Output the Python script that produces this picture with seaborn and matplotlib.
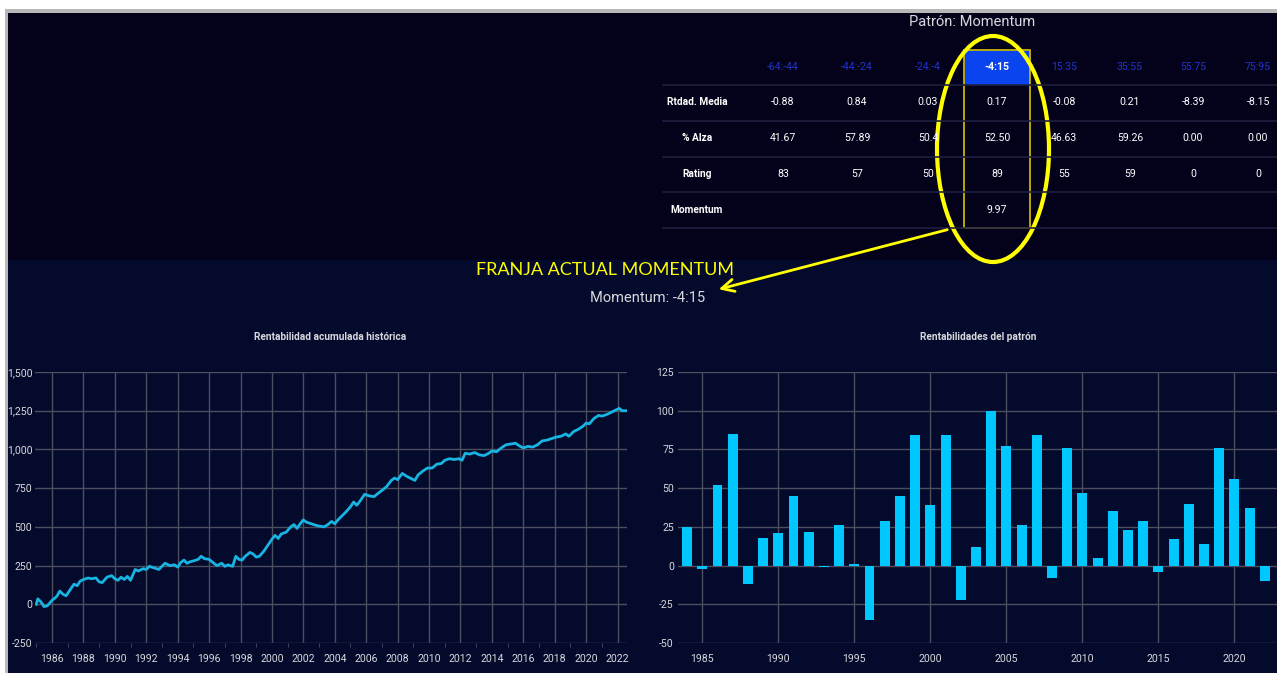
import matplotlib
matplotlib.use("Agg")
import matplotlib.pyplot as plt
from matplotlib.patches import Rectangle, Ellipse
from matplotlib.ticker import FuncFormatter, MultipleLocator
import seaborn as sns
import pandas as pd

# ---------------- data ----------------
bar_years = list(range(1984, 2023))
bar_values = [25, -2, 52, 85, -12, 18, 21, 45, 22, -1, 26, 1, -35, 29, 45, 84, 39, 84,
              -22, 12, 100, 77, 26, 84, -8, 76, 47, 5, 35, 23, 29, -4, 17, 40, 14, 76,
              56, 37, -10]

line_t = [1985.0, 1985.1, 1985.3, 1985.5, 1985.7, 1986.0, 1986.3, 1986.5, 1986.7, 1986.9,
          1987.2, 1987.4, 1987.6, 1987.8, 1988.0, 1988.3, 1988.5, 1988.8, 1989.0, 1989.2,
          1989.5, 1989.8, 1990.0, 1990.2, 1990.4, 1990.6, 1990.8, 1991.0, 1991.3, 1991.5,
          1991.8, 1992.0, 1992.2, 1992.5, 1992.8, 1993.0, 1993.2, 1993.5, 1993.8, 1994.0,
          1994.2, 1994.4, 1994.6, 1994.8, 1995.0, 1995.3, 1995.5, 1995.7, 1996.0, 1996.3,
          1996.5, 1996.8, 1997.0, 1997.2, 1997.5, 1997.7, 1997.9, 1998.1, 1998.3, 1998.6,
          1998.8, 1999.0, 1999.2, 1999.5, 1999.8, 2000.0, 2000.2, 2000.4, 2000.6, 2000.9,
          2001.2, 2001.4, 2001.6, 2001.8, 2002.0, 2002.2, 2002.5, 2002.8, 2003.0, 2003.3,
          2003.5, 2003.8, 2004.0, 2004.2, 2004.5, 2004.7, 2005.0, 2005.2, 2005.4, 2005.6,
          2005.9, 2006.2, 2006.5, 2006.8, 2007.0, 2007.3, 2007.6, 2007.8, 2008.0, 2008.3,
          2008.6, 2008.9, 2009.1, 2009.3, 2009.6, 2009.9, 2010.2, 2010.5, 2010.8, 2011.0,
          2011.3, 2011.6, 2011.9, 2012.1, 2012.3, 2012.6, 2012.9, 2013.2, 2013.5, 2013.8,
          2014.0, 2014.3, 2014.6, 2014.9, 2015.2, 2015.5, 2015.8, 2016.0, 2016.3, 2016.6,
          2016.9, 2017.2, 2017.5, 2017.8, 2018.1, 2018.4, 2018.7, 2018.9, 2019.2, 2019.5,
          2019.8, 2020.0, 2020.2, 2020.5, 2020.8, 2021.0, 2021.3, 2021.6, 2021.9, 2022.1,
          2022.3, 2022.6]
line_v = [0, 35, 15, -15, -10, 25, 50, 85, 65, 55,
          100, 130, 120, 150, 160, 170, 165, 170, 145, 140,
          175, 185, 165, 155, 175, 160, 180, 155, 225, 215,
          230, 225, 245, 235, 225, 245, 265, 250, 255, 240,
          270, 285, 265, 275, 280, 290, 310, 295, 290, 265,
          250, 265, 245, 255, 245, 310, 290, 285, 310, 335,
          325, 305, 310, 345, 390, 420, 445, 425, 455, 465,
          500, 515, 490, 520, 545, 530, 520, 510, 505, 500,
          510, 535, 520, 545, 575, 595, 630, 660, 640, 665,
          710, 700, 695, 720, 735, 760, 800, 815, 805, 845,
          825, 810, 800, 835, 860, 880, 880, 905, 910, 930,
          940, 935, 940, 930, 975, 970, 980, 965, 960, 975,
          990, 985, 1010, 1030, 1035, 1040, 1020, 1010, 1020, 1015,
          1030, 1055, 1060, 1070, 1080, 1085, 1100, 1085, 1115, 1130,
          1150, 1170, 1165, 1200, 1220, 1215, 1225, 1240, 1255, 1265,
          1250, 1250]

left_yticks = [-250, 0, 250, 500, 750, 1000, 1250, 1500]
left_xticks = list(range(1986, 2023, 2))
right_yticks = [-50, -25, 0, 25, 50, 75, 100, 125]
right_xticks = list(range(1985, 2021, 5))

table_title = "Patrón: Momentum"
col_headers = ["-64:-44", "-44:-24", "-24:-4", "-4:15", "15:35", "35:55", "55:75", "75:95"]
row_labels = ["Rtdad. Media", "% Alza", "Rating", "Momentum"]
row_media = ["-0.88", "0.84", "0.03", "0.17", "-0.08", "0.21", "-8.39", "-8.15"]
row_alza = ["41.67", "57.89", "50.4", "52.50", "46.63", "59.26", "0.00", "0.00"]
row_rating = ["83", "57", "50", "89", "55", "59", "0", "0"]
row_momentum = ["", "", "", "9.97", "", "", "", ""]
current_band = "-4:15"

# ---------------- style ----------------
plt.rcParams["font.family"] = ["Roboto", "DejaVu Sans"]
plt.rcParams["axes.unicode_minus"] = False

W, H = 1277, 673
fig = plt.figure(figsize=(W / 100, H / 100), dpi=100, facecolor="white")

TOP_BG = "#03021a"
BOT_BG = "#030a2c"
GRID = "#4c4e5e"
TXT = "#d8d8dc"
TICK_FS = 7.6
TITLE_FS = 10.5


def fx(px):
    return px / W


def fy(py):
    return 1 - py / H


# background panels (figure level, beneath axes)
fig.patches.append(Rectangle((fx(5), fy(673)), fx(1272), (673 - 9) / H, transform=fig.transFigure,
                             facecolor="#b8b8b8", edgecolor="none", zorder=-10))
fig.patches.append(Rectangle((fx(8), fy(260)), fx(1269), (260 - 13) / H, transform=fig.transFigure,
                             facecolor=TOP_BG, edgecolor="none", zorder=-9))
fig.patches.append(Rectangle((fx(8), fy(673)), fx(1269), (673 - 260) / H, transform=fig.transFigure,
                             facecolor=BOT_BG, edgecolor="none", zorder=-9))


def style_axes(ax):
    ax.set_facecolor("none")
    for s in ax.spines.values():
        s.set_visible(False)
    ax.grid(True, color=GRID, linewidth=1)
    ax.set_axisbelow(True)
    ax.tick_params(colors=TXT, labelsize=TICK_FS, length=0, pad=3)
    ax.tick_params(axis="x", pad=8)
    ax.set_xlabel("")
    ax.set_ylabel("")


# ---------------- left: cumulative line ----------------
axL = fig.add_axes([fx(35), fy(643), fx(627 - 35), (643 - 372) / H])
df_line = pd.DataFrame({"t": line_t, "v": line_v})
sns.lineplot(data=df_line, x="t", y="v", ax=axL, color="#18b4e2", linewidth=2, estimator=None)
axL.set_xlim(1984.92, 2022.6)
axL.set_ylim(-250, 1500)
axL.set_yticks(left_yticks)
axL.set_xticks(left_xticks)
axL.yaxis.set_major_formatter(FuncFormatter(lambda v, p: f"{v:,.0f}"))
axL.xaxis.set_minor_locator(MultipleLocator(1))
style_axes(axL)
axL.tick_params(axis="y", pad=2)
axL.tick_params(axis="x", which="minor", length=3, color=GRID)

# ---------------- right: bars ----------------
axR = fig.add_axes([fx(678), fy(643), fx(1277 - 678), (643 - 372) / H])
df_bar = pd.DataFrame({"year": bar_years, "ret": bar_values})
sns.barplot(data=df_bar, x="year", y="ret", ax=axR, native_scale=True, width=0.65,
            color="#00c8ff", saturation=1, errorbar=None)
axR.set_xlim(1983.4, 2022.8)
axR.set_ylim(-50, 125)
axR.set_yticks(right_yticks)
axR.set_xticks(right_xticks)
axR.xaxis.set_major_formatter(FuncFormatter(lambda v, p: f"{v:.0f}"))
style_axes(axR)

# ---------------- overlay (texts, table, annotations) ----------------
ov = fig.add_axes([0, 0, 1, 1], zorder=10)
ov.set_xlim(0, W)
ov.set_ylim(H, 0)
ov.axis("off")
ov.patch.set_alpha(0)

ov.text(972, 22, table_title, color=TXT, fontsize=TITLE_FS, ha="center", va="center")

col_x = [783, 857, 928, 997, 1064, 1130, 1193, 1258]
header_y = 67
row_y = [102, 138, 174, 210]
line_y = [85, 121, 157, 192, 228]
for y in line_y:
    ov.plot([663, 1277], [y, y], color="#1e2040", lw=1.2)

hi = col_headers.index(current_band)
ov.add_patch(Rectangle((964, 50), 66, 35, facecolor="#0a44ee", edgecolor="none"))
for i, h in enumerate(col_headers):
    if i == hi:
        ov.text(col_x[i], header_y, h, color="white", fontsize=TICK_FS, ha="center", va="center",
                fontweight="bold")
    else:
        ov.text(col_x[i], header_y, h, color="#2233cc", fontsize=TICK_FS, ha="center", va="center")

rows = [row_media, row_alza, row_rating, row_momentum]
for r, (lab, vals) in enumerate(zip(row_labels, rows)):
    ov.text(697, row_y[r], lab, color="white", fontsize=TICK_FS - 0.3, ha="center", va="center",
            fontweight="bold")
    for i, v in enumerate(vals):
        ov.text(col_x[i], row_y[r], v, color="white", fontsize=TICK_FS, ha="center", va="center")

# highlight rectangle and ellipse
ov.add_patch(Rectangle((964, 50), 66, 178, facecolor="none", edgecolor="#c8b400", lw=1.3))
ov.add_patch(Ellipse((993, 149), 112, 226, facecolor="none", edgecolor="#ffff00", lw=3))
ov.annotate("", xy=(716, 290), xytext=(950, 229),
            arrowprops=dict(arrowstyle="->", color="#ffff00", lw=2, mutation_scale=22))
ov.text(605, 270, "FRANJA ACTUAL MOMENTUM", color="#ffff00", fontsize=13, ha="center",
        va="center", family=["Lato", "DejaVu Sans"])
ov.text(648, 298, "Momentum: -4:15", color=TXT, fontsize=TITLE_FS, ha="center", va="center")

ov.text(330, 337, "Rentabilidad acumulada histórica", color=TXT, fontsize=TICK_FS - 0.3,
        ha="center", va="center", fontweight="bold")
ov.text(978, 337, "Rentabilidades del patrón", color=TXT, fontsize=TICK_FS - 0.3,
        ha="center", va="center", fontweight="bold")

fig.savefig("out.png", dpi=100, facecolor="white")
